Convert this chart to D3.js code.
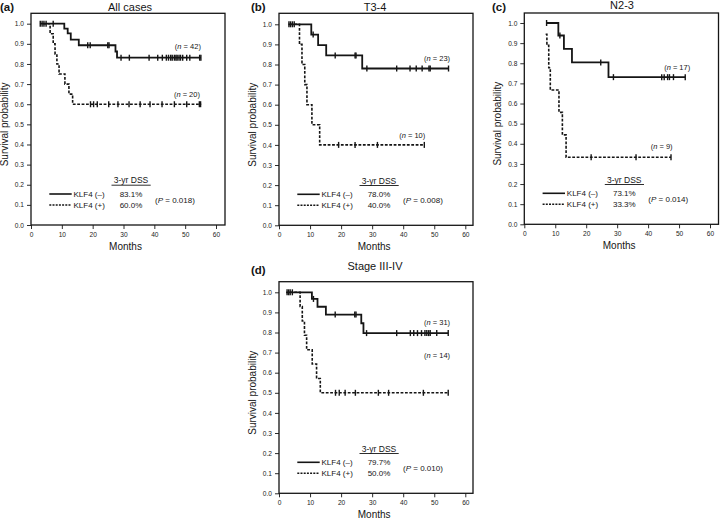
<!DOCTYPE html>
<html><head><meta charset="utf-8">
<script src="https://cdn.jsdelivr.net/npm/d3@7"></script>
<style>body{margin:0;background:#fff}svg{display:block;font-family:"Liberation Sans",Arial,Helvetica,sans-serif}</style>
</head><body><svg id="chart" width="720" height="521"></svg>
<script>
// ---------- data ----------
const xTicks = [0, 10, 20, 30, 40, 50, 60];
const yTicks = [0, 0.1, 0.2, 0.3, 0.4, 0.5, 0.6, 0.7, 0.8, 0.9, 1.0];
const panelIds = ["(a)", "(b)", "(c)", "(d)"];
const panelTitles = ["All cases", "T3-4", "N2-3", "Stage III-IV"];
const nNeg = [42, 23, 17, 31];
const nPos = [20, 10, 9, 14];
const dssNeg = ["83.1%", "78.0%", "73.1%", "79.7%"];
const dssPos = ["60.0%", "40.0%", "33.3%", "50.0%"];
const pValues = ["0.018", "0.008", "0.014", "0.010"];

// Kaplan-Meier steps: [months, survival]
const aNegSteps = [[2.9,1],[10.8,0.976],[11.9,0.952],[12.9,0.921],[15.5,0.893],[27.4,0.862],[27.9,0.831]];
const aNegEnd = 55.1;
const aNegCensor = [3.0,3.6,4.2,4.9,7.2,18.4,19.2,24.9,25.3,29.2,31.9,38.3,41.1,42.6,43.9,44.6,45.3,45.8,46.5,47.0,47.4,48.0,48.5,49.2,50.5,51.5,54.7,55.1];
const aPosSteps = [[4.0,1],[6.2,0.95],[7.2,0.9],[7.8,0.85],[8.4,0.8],[9.1,0.75],[11.0,0.7],[12.3,0.65],[13.5,0.6]];
const aPosEnd = 55.2;
const aPosCensor = [19.3,20.3,21.5,25.2,28.2,31.8,35.4,38.6,42.5,46.5,50.5,54.6,55.0];

const bNegSteps = [[3.0,1],[10.4,0.949],[12.6,0.896],[15.2,0.845],[26.8,0.78]];
const bNegEnd = 54.6;
const bNegCensor = [3.2,3.7,4.3,4.9,11.0,18.1,24.5,24.8,28.3,37.9,42.2,44.2,46.1,48.3,48.7,54.6];
const bPosSteps = [[3.5,1],[6.6,0.9],[7.4,0.8],[8.3,0.7],[9.0,0.6],[10.6,0.5],[13.1,0.4]];
const bPosEnd = 46.8;
const bPosCensor = [19.2,24.5,31.7,46.8];

const cNegSteps = [[7.2,1],[11.0,0.938],[12.8,0.871],[15.4,0.804],[27.2,0.731]];
const cNegEnd = 52.0;
const cNegCensor = [7.2,11.5,24.7,28.8,44.4,45.2,46.3,46.9,48.2,52.0];
const cPosSteps = [[6.9,0.944],[7.3,0.889],[7.9,0.778],[8.4,0.667],[11.2,0.556],[12.3,0.444],[13.5,0.333]];
const cPosEnd = 47.4;
const cPosCensor = [21.6,36.1,47.4];

const dNegSteps = [[2.3,1],[10.6,0.967],[12.4,0.928],[15.1,0.889],[26.5,0.846],[27.2,0.797]];
const dNegEnd = 54.5;
const dNegCensor = [2.6,3.1,3.6,4.3,11.1,18.1,24.4,24.8,28.2,37.9,42.3,43.4,44.6,45.9,47.0,47.6,48.2,48.7,50.8,54.5];
const dPosSteps = [[3.5,1],[6.8,0.929],[7.5,0.857],[8.2,0.786],[8.9,0.714],[10.7,0.643],[12.1,0.571],[13.3,0.5]];
const dPosEnd = 54.5;
const dPosCensor = [18.2,19.4,21.3,24.6,32.0,35.3,46.5,54.5];

// ---------- layout (positions only) ----------
const layout = [
  {x0:31,    x60:216,   y0:225,   y1:23.7,  top:13.3,  right:225,   titleX:130, titleY:10.5, idX:0,   idY:10.5, nNegDy:9,  nPosDy:7.5, nNegX:55.1, nPosX:54.8},
  {x0:279,   x60:465.3, y0:225.3, y1:24.3,  top:13.3,  right:473,   titleX:375, titleY:10.5, idX:251, idY:10.5, nNegDy:8,  nPosDy:6.5, nNegX:55.1, nPosX:47.1},
  {x0:524.3, x60:710,   y0:224.3, y1:23,    top:13,    right:718.5, titleX:622, titleY:9,    idX:492, idY:11,   nNegDy:7,  nPosDy:8,   nNegX:53.6, nPosX:47.9},
  {x0:279,   x60:465.3, y0:493.3, y1:292.3, top:281.7, right:473,   titleX:375, titleY:270,  idX:251, idY:274,  nNegDy:8,  nPosDy:35,  nNegX:55.1, nPosX:55.1}
];

const curves = [
  {neg:{steps:aNegSteps,end:aNegEnd,censor:aNegCensor}, pos:{steps:aPosSteps,end:aPosEnd,censor:aPosCensor}},
  {neg:{steps:bNegSteps,end:bNegEnd,censor:bNegCensor}, pos:{steps:bPosSteps,end:bPosEnd,censor:bPosCensor}},
  {neg:{steps:cNegSteps,end:cNegEnd,censor:cNegCensor}, pos:{steps:cPosSteps,end:cPosEnd,censor:cPosCensor}},
  {neg:{steps:dNegSteps,end:dNegEnd,censor:dNegCensor}, pos:{steps:dPosSteps,end:dPosEnd,censor:dPosCensor}}
];

const svg = d3.select("#chart");
const ink = "#151515";

function survAt(steps, t){
  let v = steps[0][1];
  for (const s of steps) if (s[0] <= t) v = s[1];
  return v;
}

layout.forEach((L, i) => {
  const g = svg.append("g");
  const x = d3.scaleLinear().domain([0, 60]).range([L.x0, L.x60]);
  const y = d3.scaleLinear().domain([0, 1]).range([L.y0, L.y1]);

  // frame
  g.append("rect").attr("x", L.x0).attr("y", L.top)
    .attr("width", L.right - L.x0).attr("height", L.y0 - L.top)
    .attr("fill", "none").attr("stroke", ink).attr("stroke-width", 1.3);

  // axes
  const ya = g.append("g").attr("transform", `translate(${L.x0},0)`)
    .call(d3.axisLeft(y).tickValues(yTicks).tickFormat(d3.format(".1f")).tickSize(4).tickSizeOuter(0).tickPadding(3));
  const xa = g.append("g").attr("transform", `translate(0,${L.y0})`)
    .call(d3.axisBottom(x).tickValues(xTicks).tickSize(4).tickSizeOuter(0).tickPadding(3));
  [ya, xa].forEach(a => {
    a.select(".domain").remove();
    a.selectAll("line").attr("stroke", ink).attr("stroke-width", 0.9);
    a.selectAll("text").attr("fill", "#222").style("font-size", "6.6px").style("font-family", "'Liberation Sans',Arial,sans-serif");
  });

  // titles
  g.append("text").attr("x", L.titleX).attr("y", L.titleY).attr("text-anchor", "middle")
    .style("font-size", "11px").attr("fill", ink).text(panelTitles[i]);
  g.append("text").attr("x", L.idX).attr("y", L.idY)
    .style("font-size", "11.5px").style("font-weight", "bold").attr("fill", ink).text(panelIds[i]);

  // axis labels
  g.append("text").attr("transform", `translate(${L.x0 - 23},${(L.y0 + L.y1) / 2}) rotate(-90)`)
    .attr("text-anchor", "middle").style("font-size", "10px").attr("fill", ink).text("Survival probability");
  g.append("text").attr("x", (L.x0 + L.x60) / 2 + 2).attr("y", L.y0 + 25).attr("text-anchor", "middle")
    .style("font-size", "10px").attr("fill", ink).text("Months");

  // curves
  const line = d3.line().x(d => x(d[0])).y(d => y(d[1])).curve(d3.curveStepAfter);
  const drawCurve = (c, dashed) => {
    const pts = c.steps.concat([[c.end, c.steps[c.steps.length - 1][1]]]);
    g.append("path").attr("d", line(pts)).attr("fill", "none").attr("stroke", ink)
      .attr("stroke-width", dashed ? 1.6 : 1.8)
      .attr("stroke-dasharray", dashed ? "2.8,1.6" : null);
    g.selectAll(null).data(c.censor).enter().append("line")
      .attr("x1", t => x(t)).attr("x2", t => x(t))
      .attr("y1", t => y(survAt(c.steps, t)) - 3)
      .attr("y2", t => y(survAt(c.steps, t)) + 3)
      .attr("stroke", ink).attr("stroke-width", 1.4);
  };
  drawCurve(curves[i].neg, false);
  drawCurve(curves[i].pos, true);

  // n labels
  const nLabel = (n, xm, yv, dy) => {
    const t = g.append("text").attr("x", x(xm)).attr("y", y(yv) - dy).attr("text-anchor", "end")
      .style("font-size", "7.5px").attr("fill", ink);
    t.append("tspan").text("(");
    t.append("tspan").style("font-style", "italic").text("n");
    t.append("tspan").text(" = " + n + ")");
  };
  const negLast = curves[i].neg.steps[curves[i].neg.steps.length - 1][1];
  const posLast = curves[i].pos.steps[curves[i].pos.steps.length - 1][1];
  nLabel(nNeg[i], L.nNegX, negLast, L.nNegDy);
  nLabel(nPos[i], L.nPosX, posLast, L.nPosDy);

  // legend
  const lx = L.x0, ly = L.y0;
  g.append("text").attr("x", lx + 100).attr("y", ly - 41.7).attr("text-anchor", "middle")
    .style("font-size", "8.5px").attr("fill", ink).text("3-yr DSS");
  g.append("line").attr("x1", lx + 80.5).attr("x2", lx + 119.7).attr("y1", ly - 39.8).attr("y2", ly - 39.8)
    .attr("stroke", ink).attr("stroke-width", 0.9);
  g.append("line").attr("x1", lx + 18.3).attr("x2", lx + 40.7).attr("y1", ly - 31).attr("y2", ly - 31)
    .attr("stroke", ink).attr("stroke-width", 1.6);
  g.append("line").attr("x1", lx + 18.3).attr("x2", lx + 40.7).attr("y1", ly - 20).attr("y2", ly - 20)
    .attr("stroke", ink).attr("stroke-width", 1.5).attr("stroke-dasharray", "2,1.2");
  g.append("text").attr("x", lx + 42.5).attr("y", ly - 28.3).style("font-size", "8px").attr("fill", ink).text("KLF4 (\u2013)");
  g.append("text").attr("x", lx + 42.5).attr("y", ly - 17.3).style("font-size", "8px").attr("fill", ink).text("KLF4 (+)");
  g.append("text").attr("x", lx + 100).attr("y", ly - 28.3).attr("text-anchor", "middle").style("font-size", "8px").attr("fill", ink).text(dssNeg[i]);
  g.append("text").attr("x", lx + 100).attr("y", ly - 17.3).attr("text-anchor", "middle").style("font-size", "8px").attr("fill", ink).text(dssPos[i]);
  const pt = g.append("text").attr("x", lx + 124).attr("y", ly - 22.5).style("font-size", "8px").attr("fill", ink);
  pt.append("tspan").text("(");
  pt.append("tspan").style("font-style", "italic").text("P");
  pt.append("tspan").text(" = " + pValues[i] + ")");
});
</script></body></html>
